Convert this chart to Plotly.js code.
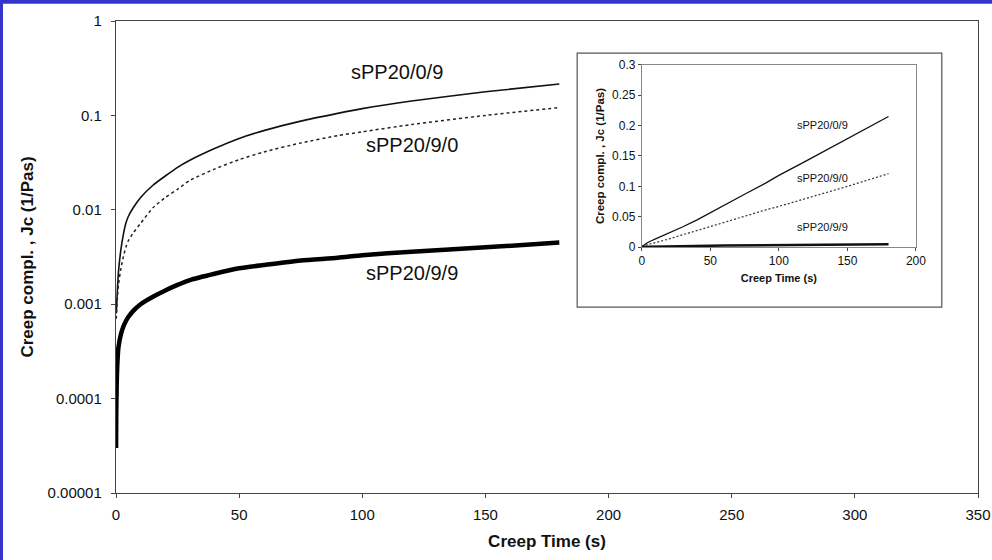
<!DOCTYPE html>
<html>
<head>
<meta charset="utf-8">
<script src="https://cdn.plot.ly/plotly-3.0.1.min.js"></script>
<style>
html,body{margin:0;padding:0;background:#fff;}
#chart{width:992px;height:560px;}
</style>
</head>
<body>
<div id="chart"></div>
<script>
// Creep time (s)
const timeThin = [0.1, 0.5, 1, 2, 3, 4, 5, 7, 10, 15, 20, 25, 30, 40, 50, 60, 75, 90, 100, 120, 150, 180];
// sPP20/0/9 creep compliance (1/Pas)
const jc_0_9 = [0.0008, 0.0013, 0.0022, 0.0038, 0.0055, 0.0072, 0.0085, 0.0105, 0.0135, 0.0182, 0.0228, 0.0282, 0.0335, 0.0445, 0.057, 0.069, 0.087, 0.105, 0.118, 0.142, 0.178, 0.215];
// sPP20/9/0
const jc_9_0 = [0.0007, 0.0011, 0.0016, 0.0024, 0.0032, 0.004, 0.0047, 0.0057, 0.0072, 0.0105, 0.0135, 0.0165, 0.0205, 0.027, 0.034, 0.041, 0.051, 0.061, 0.067, 0.08, 0.1, 0.121];
// sPP20/9/9
const time_9_9 = [0.02, 0.1, 0.3, 0.6, 1, 2, 3, 4, 5, 7, 10, 15, 20, 25, 30, 40, 50, 60, 75, 90, 100, 120, 150, 180];
const jc_9_9 = [0.00003, 0.00007, 0.00015, 0.00025, 0.00035, 0.00048, 0.00058, 0.00066, 0.00073, 0.00085, 0.001, 0.0012, 0.0014, 0.0016, 0.0018, 0.0021, 0.0024, 0.0026, 0.0029, 0.0031, 0.0033, 0.0036, 0.004, 0.0045];

const seriesNames = ['sPP20/0/9', 'sPP20/9/0', 'sPP20/9/9'];
const mainXTicks = [0, 50, 100, 150, 200, 250, 300, 350];
const mainYTickVals = [0.00001, 0.0001, 0.001, 0.01, 0.1, 1];
const mainYTickText = ['0.00001', '0.0001', '0.001', '0.01', '0.1', '1'];
const insetXTicks = [0, 50, 100, 150, 200];
const insetYTicks = [0, 0.05, 0.1, 0.15, 0.2, 0.25, 0.3];
const insetYTickText = ['0', '0.05', '0.1', '0.15', '0.2', '0.25', '0.3'];

const FONT = 'Liberation Sans, Arial, sans-serif';

const traces = [
  {x: timeThin, y: jc_0_9, name: seriesNames[0], mode: 'lines', line: {color: '#111', width: 1.6, shape: 'spline', smoothing: 0.6}, xaxis: 'x', yaxis: 'y'},
  {x: timeThin, y: jc_9_0, name: seriesNames[1], mode: 'lines', line: {color: '#222', width: 1.5, dash: '3px,3px', shape: 'spline', smoothing: 0.6}, xaxis: 'x', yaxis: 'y'},
  {x: time_9_9, y: jc_9_9, name: seriesNames[2], mode: 'lines', line: {color: '#000', width: 4.5, shape: 'spline', smoothing: 0.6}, xaxis: 'x', yaxis: 'y'},
  {x: timeThin, y: jc_0_9, name: seriesNames[0], mode: 'lines', line: {color: '#111', width: 1.3}, xaxis: 'x2', yaxis: 'y2'},
  {x: timeThin, y: jc_9_0, name: seriesNames[1], mode: 'lines', line: {color: '#333', width: 1.2, dash: '2px,2px'}, xaxis: 'x2', yaxis: 'y2'},
  {x: time_9_9, y: jc_9_9, name: seriesNames[2], mode: 'lines', line: {color: '#111', width: 2.5}, xaxis: 'x2', yaxis: 'y2'}
];

const layout = {
  width: 992, height: 560,
  margin: {l: 116, r: 14, t: 21, b: 67},
  paper_bgcolor: '#fff', plot_bgcolor: '#fff',
  showlegend: false,
  font: {family: FONT, color: '#111'},
  xaxis: {
    domain: [0, 1], range: [0, 350], tickvals: mainXTicks,
    showgrid: false, zeroline: false, showline: true, mirror: true,
    linecolor: '#444', linewidth: 1.2, ticks: 'outside', ticklen: 4, tickcolor: '#444',
    ticklabelstandoff: 4,
    tickfont: {size: 15, family: FONT, color: '#111'},
    title: {text: '<b>Creep Time (s)</b>', font: {size: 17, family: FONT, color: '#111'}, standoff: 12}
  },
  yaxis: {
    domain: [0, 1], type: 'log', range: [-5, 0],
    tickvals: mainYTickVals, ticktext: mainYTickText,
    showgrid: false, zeroline: false, showline: true, mirror: true,
    linecolor: '#444', linewidth: 1.2, ticks: 'outside', ticklen: 4, tickcolor: '#444',
    ticklabelstandoff: 6,
    tickfont: {size: 15, family: FONT, color: '#111'},
    title: {text: '<b>Creep compl. , Jc (1/Pas)</b>', font: {size: 17, family: FONT, color: '#111'}, standoff: 9}
  },
  xaxis2: {
    domain: [0.610, 0.928], anchor: 'y2', range: [0, 200], tickvals: insetXTicks,
    showgrid: false, zeroline: false, showline: true, mirror: true,
    linecolor: '#888', linewidth: 1, ticks: 'outside', ticklen: 3, tickcolor: '#444',
    tickfont: {size: 12, family: FONT, color: '#111'},
    title: {text: '<b>Creep Time (s)</b>', font: {size: 11, family: FONT, color: '#111'}, standoff: 6}
  },
  yaxis2: {
    domain: [0.521, 0.907], anchor: 'x2', range: [0, 0.3],
    tickvals: insetYTicks, ticktext: insetYTickText,
    showgrid: false, zeroline: false, showline: true, mirror: true,
    linecolor: '#888', linewidth: 1, ticks: 'outside', ticklen: 3, tickcolor: '#444',
    tickfont: {size: 12, family: FONT, color: '#111'},
    title: {text: '<b>Creep compl. , Jc (1/Pas)</b>', font: {size: 11.5, family: FONT, color: '#111'}, standoff: 5}
  },
  shapes: [
    // inset chart frame
    {type: 'rect', xref: 'paper', yref: 'paper', x0: 0.535, x1: 0.958, y0: 0.394, y1: 0.932,
     line: {color: '#555', width: 1.2}, fillcolor: 'rgba(0,0,0,0)', layer: 'below'},
    // blue page frame (top and left)
    {type: 'rect', xref: 'paper', yref: 'paper', x0: -0.1346, x1: 1.0163, y0: 1.0365, y1: 1.0446,
     line: {width: 0}, fillcolor: '#3434cf'},
    {type: 'rect', xref: 'paper', yref: 'paper', x0: -0.1346, x1: -0.1311, y0: -0.1420, y1: 1.0446,
     line: {width: 0}, fillcolor: '#3434cf'}
  ],
  annotations: [
    {xref: 'x', yref: 'y', x: 114, y: -0.535, text: seriesNames[0], showarrow: false, font: {size: 20, family: FONT, color: '#111'}},
    {xref: 'x', yref: 'y', x: 120, y: -1.31, text: seriesNames[1], showarrow: false, font: {size: 20, family: FONT, color: '#111'}},
    {xref: 'x', yref: 'y', x: 120, y: -2.667, text: seriesNames[2], showarrow: false, font: {size: 20, family: FONT, color: '#111'}},
    {xref: 'x2', yref: 'y2', x: 132, y: 0.201, text: seriesNames[0], showarrow: false, font: {size: 11, family: FONT, color: '#111'}},
    {xref: 'x2', yref: 'y2', x: 132, y: 0.114, text: seriesNames[1], showarrow: false, font: {size: 11, family: FONT, color: '#111'}},
    {xref: 'x2', yref: 'y2', x: 132, y: 0.033, text: seriesNames[2], showarrow: false, font: {size: 11, family: FONT, color: '#111'}}
  ]
};

Plotly.newPlot('chart', traces, layout, {staticPlot: true, displayModeBar: false});
</script>
</body>
</html>
